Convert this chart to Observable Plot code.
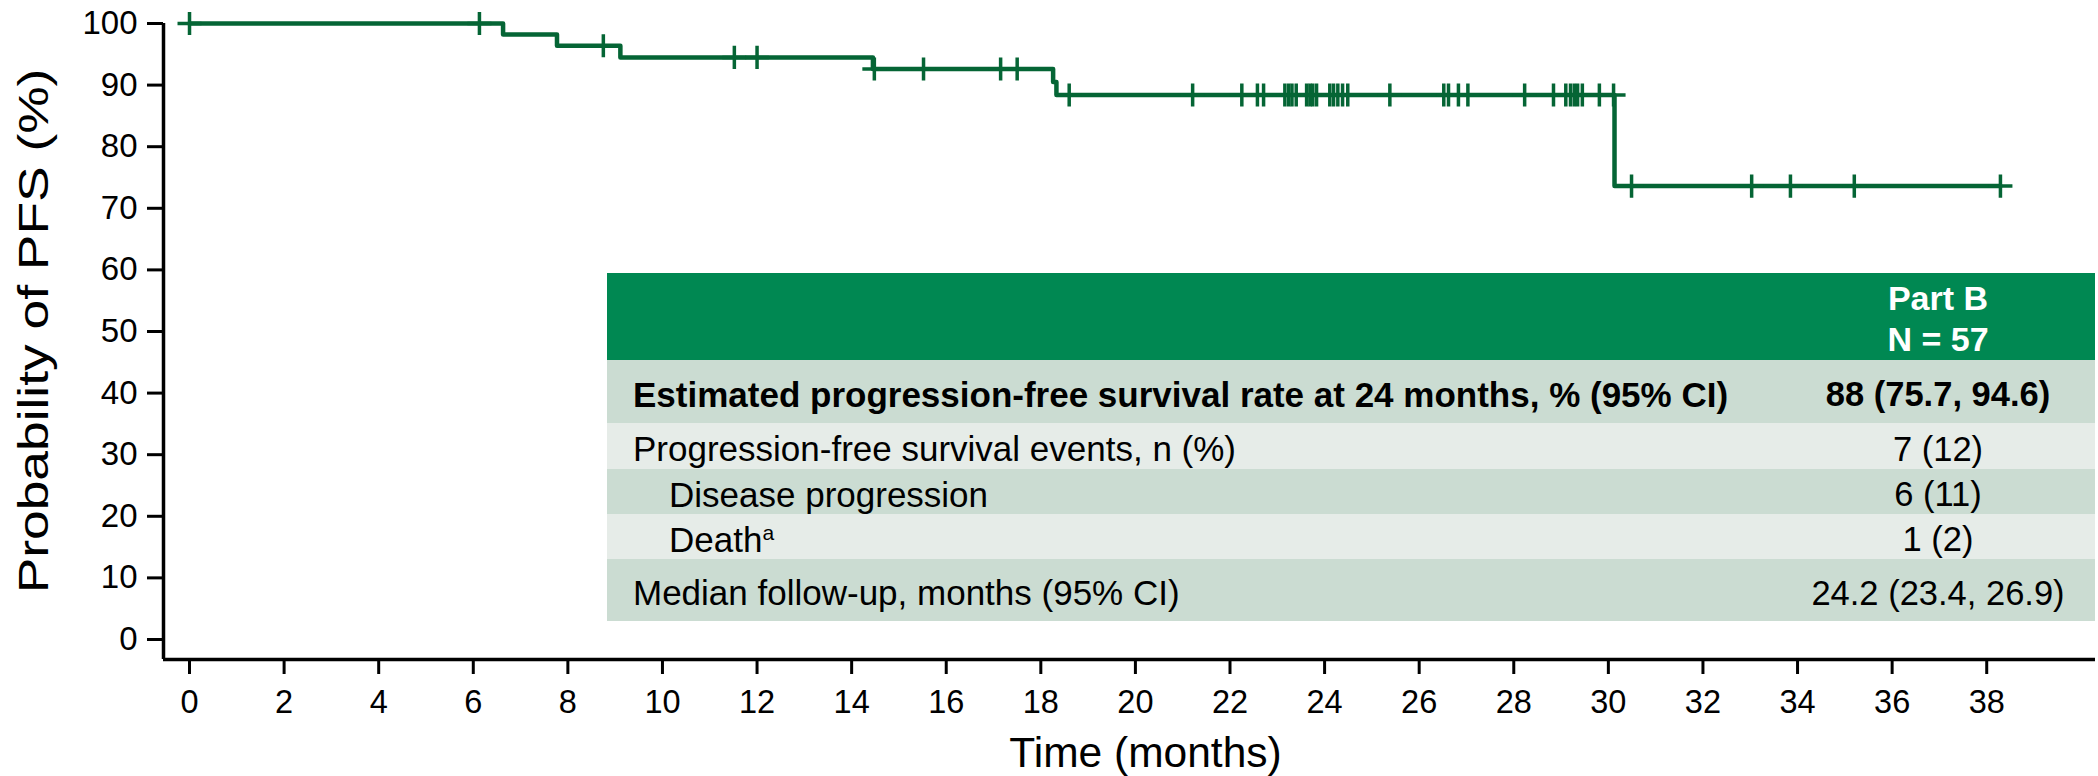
<!DOCTYPE html>
<html>
<head>
<meta charset="utf-8">
<script src="https://cdn.jsdelivr.net/npm/d3@7"></script>
<script src="https://cdn.jsdelivr.net/npm/@observablehq/plot@0.6"></script>
<style>
  html, body { margin: 0; padding: 0; background: #fff; }
  #wrap { position: relative; width: 2098px; height: 776px; font-family: "Liberation Sans", Arial, sans-serif; color: #000; }
  #wrap svg { position: absolute; left: 0; top: 0; }
  #ylab { position: absolute; left: 34px; top: 331px; transform: translate(-50%, -50%) rotate(-90deg) scaleX(1.27); font-size: 42px; line-height: 1; white-space: nowrap; }
  #tbl { position: absolute; left: 607px; top: 273px; width: 1488px; }
  .row { display: flex; align-items: center; box-sizing: border-box; padding-top: 6px; font-size: 35px; }
  .row .lab { flex: 1; white-space: nowrap; }
  .row .val { width: 314px; text-align: center; white-space: nowrap; font-size: 34.5px; }
  .hdr { background: #008852; color: #fff; font-weight: bold; align-items: flex-start; padding-top: 5px; }
  .hdr .val { line-height: 41px; font-size: 34px; }
  .dark { background: #cbdcd2; }
  .light { background: #e6ece8; }
  .bold { font-weight: bold; }
  sup { font-size: 0.6em; vertical-align: 0; position: relative; top: -0.55em; }
</style>
</head>
<body>
<div id="wrap"></div>
<script>
// Kaplan–Meier step curve
const stepTimes = [0, 6.63, 7.77, 9.11, 14.45, 18.26, 18.33, 30.13, 38.29];
const stepSurv  = [100, 98.2, 96.4, 94.5, 92.6, 90.5, 88.4, 73.6, 73.6];

// Censoring times
const censorTimes = [0, 6.13, 8.75, 11.52, 12.0, 14.48, 15.52, 17.15, 17.5, 18.6,
  21.21, 22.25, 22.58, 22.71, 23.16, 23.24, 23.31, 23.4, 23.62, 23.69, 23.75, 23.83,
  24.11, 24.19, 24.28, 24.38, 24.49, 25.38, 26.52, 26.62, 26.83, 27.03, 28.23, 28.84,
  29.1, 29.2, 29.28, 29.35, 29.45, 29.81, 30.11, 30.49, 33.03, 33.85, 35.2, 38.29];

const xTicks = [0, 2, 4, 6, 8, 10, 12, 14, 16, 18, 20, 22, 24, 26, 28, 30, 32, 34, 36, 38];
const yTicks = [0, 10, 20, 30, 40, 50, 60, 70, 80, 90, 100];
const xLabel = "Time (months)";
const yLabel = "Probability of PFS (%)";

// Summary table
const headerLines = ["Part B", "N = 57"];
const rowLabels = [
  "Estimated progression-free survival rate at 24 months, % (95% CI)",
  "Progression-free survival events, n (%)",
  "Disease progression",
  "Death",
  "Median follow-up, months (95% CI)"
];
const rowValues = ["88 (75.7, 94.6)", "7 (12)", "6 (11)", "1 (2)", "24.2 (23.4, 26.9)"];
const rowSup = ["", "", "", "a", ""];
const rowIndent = [false, false, true, true, false];
const rowBold = [true, false, false, false, false];
const rowShade = ["dark", "light", "dark", "light", "dark"];

const green = "#056535";
const xDomain = [-0.55, 40.3];
const yDomain = [-3.25, 100];

const steps = stepTimes.map((t, i) => ({t, s: stepSurv[i]}));
function levelAt(t) {
  let v = stepSurv[0];
  for (let i = 0; i < stepTimes.length; i++) if (stepTimes[i] <= t) v = stepSurv[i];
  return v;
}
const censors = censorTimes.map(t => ({t, s: levelAt(t)}));

const plusSymbol = {
  draw(context, size) {
    const h = Math.sqrt(size / Math.PI);
    context.moveTo(0, -h * 0.96);
    context.lineTo(0, h * 0.96);
    context.moveTo(-h, 0);
    context.lineTo(h, 0);
  }
};

const chart = Plot.plot({
  width: 2098,
  height: 776,
  marginLeft: 163,
  marginRight: 3,
  marginTop: 23,
  marginBottom: 117,
  x: {domain: xDomain},
  y: {domain: yDomain},
  style: {fontFamily: "'Liberation Sans', Arial, sans-serif", fontSize: "32px", color: "#000", background: "transparent", overflow: "visible"},
  marks: [
    Plot.axisX({ticks: xTicks, tickSize: 15, tickPadding: 15, strokeWidth: 3, label: null, fontSize: 32.5}),
    Plot.axisY({ticks: yTicks, tickSize: 16, tickPadding: 10, strokeWidth: 3, label: null, fontSize: 33}),
    Plot.ruleX([xDomain[0]], {y1: yDomain[0], y2: yDomain[1], stroke: "#000", strokeWidth: 3.5}),
    Plot.ruleY([yDomain[0]], {x1: xDomain[0], x2: xDomain[1], stroke: "#000", strokeWidth: 3.5}),
    Plot.line(steps, {x: "t", y: "s", curve: "step-after", stroke: green, strokeWidth: 4.5}),
    Plot.dot(censors, {x: "t", y: "s", r: 12, symbol: plusSymbol, stroke: green, strokeWidth: 3.5, fill: "none"}),
    Plot.text([xLabel], {frameAnchor: "bottom", dx: 16, dy: 94, fontSize: 42.5, lineAnchor: "middle"})
  ]
});

const wrap = document.getElementById("wrap");
wrap.appendChild(chart);

const yl = document.createElement("div");
yl.id = "ylab";
yl.textContent = yLabel;
wrap.appendChild(yl);

const tbl = document.createElement("div");
tbl.id = "tbl";
const hdr = document.createElement("div");
hdr.className = "row hdr";
hdr.style.height = "87px";
hdr.innerHTML = `<div class="lab"></div><div class="val">${headerLines.join("<br>")}</div>`;
tbl.appendChild(hdr);
const heights = [63, 46, 45, 45, 62];
rowLabels.forEach((lab, i) => {
  const r = document.createElement("div");
  r.className = "row " + rowShade[i] + (rowBold[i] ? " bold" : "");
  r.style.height = heights[i] + "px";
  const l = document.createElement("div");
  l.className = "lab";
  l.style.paddingLeft = (rowIndent[i] ? 62 : 26) + "px";
  l.innerHTML = lab + (rowSup[i] ? `<sup>${rowSup[i]}</sup>` : "");
  const v = document.createElement("div");
  v.className = "val";
  v.textContent = rowValues[i];
  r.appendChild(l); r.appendChild(v);
  tbl.appendChild(r);
});
wrap.appendChild(tbl);
</script>
</body>
</html>
